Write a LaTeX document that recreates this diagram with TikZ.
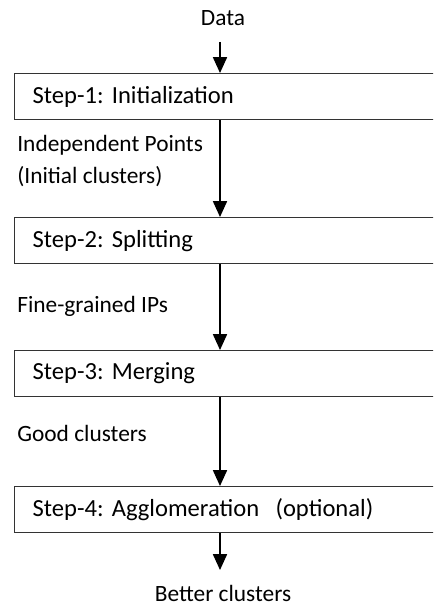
\documentclass[tikz,border=0pt]{standalone}
\usepackage{fontspec}
\setmainfont{Carlito}
\usetikzlibrary{arrows.meta}
\definecolor{edge}{rgb}{0.2,0.2,0.2}
\frenchspacing

\begin{document}
\begin{tikzpicture}
	    [x=0.02cm, y=-0.02cm,
	    stepbox/.style={draw=edge, line width=0.7pt, anchor=north west, minimum height=0.92cm, inner xsep=0.36cm, text width=7.9cm, align=left, font=\fontsize{14}{17}\selectfont},
	    label/.style={anchor=west, inner sep=0pt, align=left, font=\fontsize{13.3}{16}\selectfont},
	    flow/.style={line width=0.8pt, -{Triangle[length=9pt, width=8pt]}},
	    font=\fontsize{13.3}{16}\selectfont]
	     \clip (0,0) rectangle (433,608);
	     \node[]        (data) at (223, 18)   {Data};
	     \node[stepbox] (S1) at (14, 73)     {Step-1: Initialization};
	     \node[stepbox] (S2) at (14, 217)    {Step-2: Splitting};
	     \node[stepbox] (S3) at (14, 350)    {Step-3: Merging};
	     \node[stepbox] (S4) at (14, 486)    {Step-4: Agglomeration\ \ (optional)};
	     \node[]        (out) at (223, 593)  {Better clusters};
	     \node[label]   (L1) at (17, 161)    {Independent Points\\[2pt](Initial clusters)};
	     \node[label]   (L2) at (17, 306)    {Fine-grained IPs};
	     \node[label]   (L3) at (17, 433)    {Good clusters};
	     \coordinate    (top) at (220, 42);
	     \coordinate    (bot) at (220, 570);
	     \draw[flow] (top) -- (S1.north west -| top);
	     \draw[flow] (S1.south west -| top) -- (S2.north west -| top);
	     \draw[flow] (S2.south west -| top) -- (S3.north west -| top);
	     \draw[flow] (S3.south west -| top) -- (S4.north west -| top);
	     \draw[flow] (S4.south west -| top) -- (bot);
	\end{tikzpicture}
\end{document}
